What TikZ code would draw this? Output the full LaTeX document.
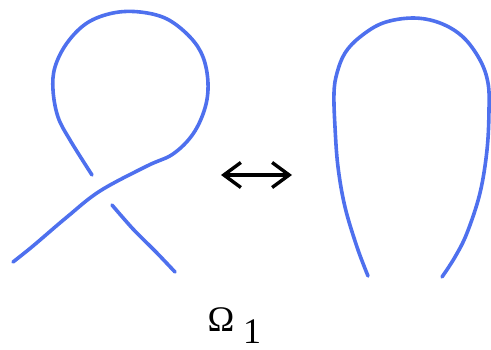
\documentclass[tikz,border=0pt]{standalone}
\usepackage{fontspec}
\setmainfont{Liberation Serif}
\usetikzlibrary{arrows.meta}
\definecolor{knotblue}{RGB}{78,112,238}

\begin{document}
\begin{tikzpicture}[x=1pt,y=-1pt,line cap=round,line join=round,
  strand/.style={line width=3.6pt,knotblue},
  label/.style={inner sep=0pt,anchor=base,font=\fontsize{36}{40}\selectfont}]
  \useasboundingbox (0,0) rectangle (491,350);
  % kink: over strand and loop
  \draw[strand] plot[smooth,tension=0.6] coordinates {(13,262) (33,246) (67,217) (100,191) (147,166)
    (173,154) (193,134) (205,108) (208,83) (203,57) (190,37) (167,19) (140,12) (113,13)
    (87,23) (67,43) (55,67) (53,90) (58,117) (70,140) (92,175)};
  % under strand
  \draw[strand] plot[smooth] coordinates {(112,205) (133,229) (156,252) (175,272)};
  % plain arc
  \draw[strand] plot[smooth,tension=0.6] coordinates {(368,276) (357,247) (345,207) (338,167)
    (335,127) (334,93) (337,73) (345,53) (360,37) (383,23) (413,18) (440,23) (463,37)
    (480,60) (488,83) (489,110) (487,150) (480,193) (467,233) (455,257) (442,277)};
  % move
  \coordinate (left) at (221,175);
  \coordinate (right) at (292,175);
  \draw[line width=3.4pt,{Straight Barb[length=17pt,width=25pt]}-{Straight Barb[length=17pt,width=25pt]}]
    (left) -- (right);
  \node[label] (omega) at (221,332) {Ω};
  \node[label] (index) at (252,344) {1};
\end{tikzpicture}
\end{document}
